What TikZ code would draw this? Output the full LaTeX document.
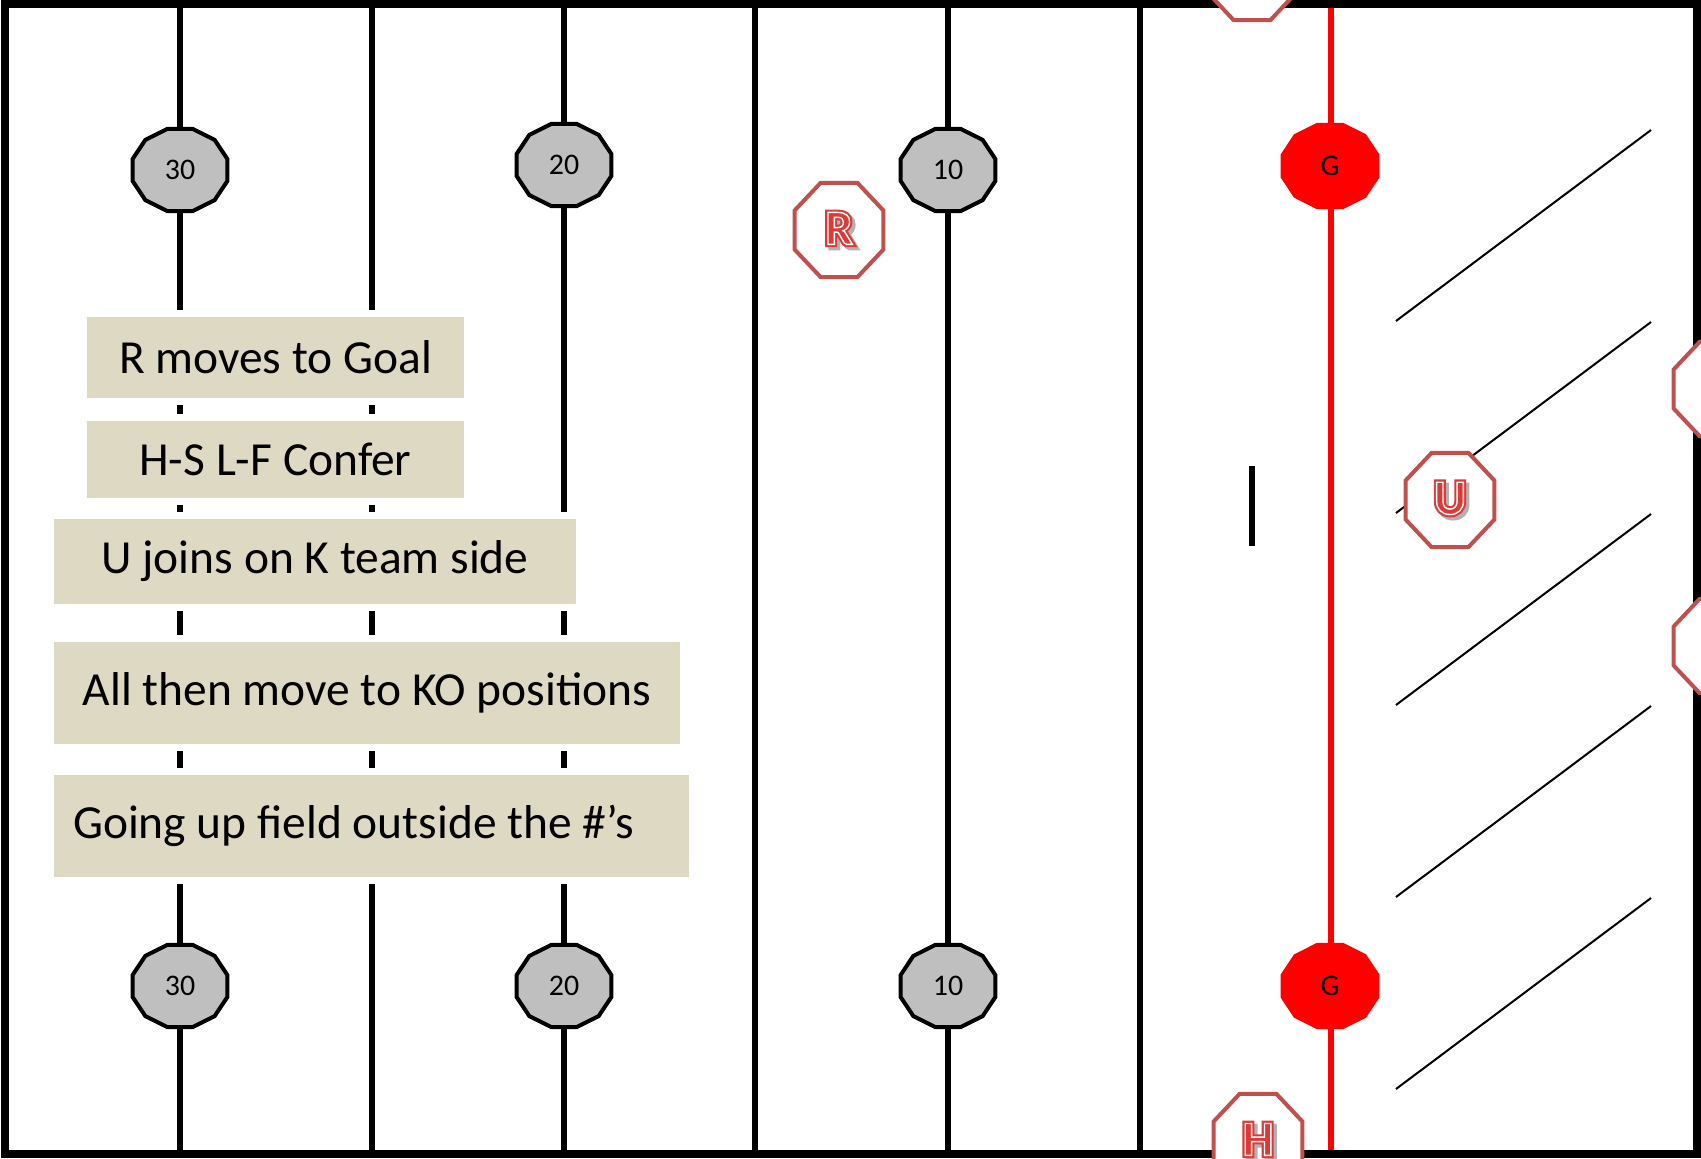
\documentclass[tikz,border=0pt]{standalone}
\usepackage{fontspec}
\setmainfont{Carlito}

\definecolor{boxtan}{HTML}{DDD9C3}
\definecolor{markgrey}{HTML}{BFBFBF}
\definecolor{offred}{HTML}{C0504D}
\definecolor{goalred}{HTML}{FF0000}
\definecolor{letterred}{HTML}{DC3A36}

\newcommand{\offletter}[1]{%
  \rlap{\kern0.9pt\raisebox{-0.9pt}{\color{black!30}\special{pdf:literal direct 2 Tr 1.6 w}#1\special{pdf:literal direct 0 Tr}}}%
  \rlap{\color{letterred}\special{pdf:literal direct 2 Tr 1.6 w}#1\special{pdf:literal direct 0 Tr}}%
  {\color{white}\special{pdf:literal direct 1 Tr 0.4 w}#1\special{pdf:literal direct 0 Tr}}}

\begin{document}
\begin{tikzpicture}[x=0.01cm, y=-0.01cm,
    field/.style={line width=0.055cm},
    notebox/.style={fill=boxtan, inner sep=0pt, font=\fontsize{13.5}{16}\selectfont,
      preaction={draw=white, line width=0.14cm}},
    markline/.style={draw=black, fill=markgrey, line width=0.04cm},
    goalmark/.style={draw=goalred, fill=goalred, line width=0.04cm},
    marktext/.style={font=\fontsize{8.5}{10}\selectfont, inner sep=0pt},
    offpoly/.style={draw=offred, fill=white, line width=0.04cm},
    offtext/.style={font=\bfseries\fontsize{14}{16}\selectfont, inner sep=0pt},
    hatch/.style={line width=0.02cm}]

  \useasboundingbox (0,0) rectangle (1701,1158);

  % yard lines and goal line
  \foreach \lx in {180,372,564,755,948,1140}
    \draw[field] (\lx,4) -- (\lx,1154);
  \draw[field, goalred] (1331,4) -- (1331,1154);
  \draw[line width=0.08cm] (5,4) rectangle (1697,1154);

  % notes
  \node[notebox, minimum width=3.77cm, minimum height=0.81cm] (goal) at (275.5,357.5) {R moves to Goal};
  \node[notebox, minimum width=3.77cm, minimum height=0.77cm] (confer) at (275.5,459.5) {H-S L-F Confer};
  \node[notebox, minimum width=5.22cm, minimum height=0.85cm] (joins) at (315,561.5) {U joins on K team side};
  \node[notebox, minimum width=6.26cm, minimum height=1.02cm] (kopos) at (367,693) {All then move to KO positions};
  \node[notebox, minimum width=6.35cm, minimum height=1.02cm] (upfield) at (371.5,826) {Going up field outside the \#’s\hspace*{0.36cm}};

  % end zone
  \foreach \hy in {321,513,...,1089}
    \draw[hatch] (1396,\hy) -- (1651,\hy-191);
  \draw[line width=0.06cm] (1252,466) -- (1252,546);

  % yard numbers
  \foreach \px/\py/\num/\nm in {180/170/30/topa, 564/165/20/topb, 948/170/10/topc,
      180/986/30/bota, 564/986/20/botb, 948/986/10/botc} {
    \draw[markline, shift={(\px,\py)}] (15:0.49cm and 0.425cm)
      foreach \a in {45,75,...,345} { -- (\a:0.49cm and 0.425cm) } -- cycle;
    \node[marktext] (\nm) at (\px,\py) {\num};
  }
  \foreach \gy/\nm in {166/goaltop, 986/goalbot} {
    \draw[goalmark, shift={(1330,\gy)}] (15:0.49cm and 0.425cm)
      foreach \a in {45,75,...,345} { -- (\a:0.49cm and 0.425cm) } -- cycle;
    \node[marktext] (\nm) at (1330,\gy) {G};
  }

  % officials
  \foreach \ox/\oy/\ol/\on in {839/230/R/ref, 1450/500/U/ump, 1258/1141/H/hl,
      1252/-27//offa, 1718/389//offb, 1718/646//offc} {
    \draw[offpoly, shift={(\ox,\oy)}] (22.5:0.48cm and 0.51cm)
      foreach \a in {67.5,112.5,...,337.5} { -- (\a:0.48cm and 0.51cm) } -- cycle;
    \node[offtext] (\on) at (\ox,\oy) {\offletter{\ol}};
  }
\end{tikzpicture}
\end{document}
